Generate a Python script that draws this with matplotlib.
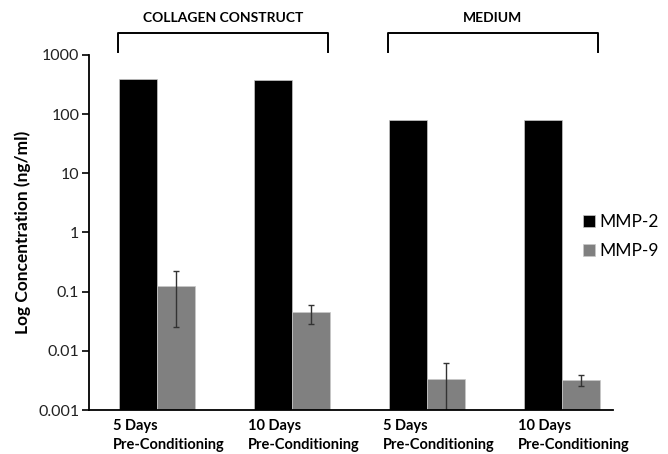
import numpy as np
import matplotlib
matplotlib.use('Agg')
import matplotlib.pyplot as plt
import matplotlib.transforms as mtransforms

plt.rcParams['font.family'] = ['Lato', 'DejaVu Sans']

# data
groups = ['5 Days\nPre-Conditioning', '10 Days\nPre-Conditioning',
          '5 Days\nPre-Conditioning', '10 Days\nPre-Conditioning']
mmp2 = [390, 385, 80, 80]
mmp9 = [0.125, 0.0445, 0.0034, 0.0032]
mmp9_err = [0.1, 0.016, 0.0028, 0.0007]
bracket_labels = ['COLLAGEN CONSTRUCT', 'MEDIUM']
bracket_groups = [(0, 1), (2, 3)]

x = np.arange(len(groups))
w = 0.285

fig = plt.figure(figsize=(6.68, 4.54), dpi=100)
ax = fig.add_axes([0.1332, 0.0969, 0.7845, 0.782])

ax.bar(x - w / 2, mmp2, w, color='black', edgecolor='#c8c8c8', linewidth=0.5, label='MMP-2')
ax.bar(x + w / 2, mmp9, w, color='#808080', edgecolor='#c8c8c8', linewidth=0.5, label='MMP-9')
ax.errorbar(x + w / 2, mmp9, yerr=mmp9_err, fmt='none', ecolor='#333333',
            elinewidth=1, capsize=2.5, capthick=1)

ax.set_yscale('log')
ax.set_ylim(0.001, 1000)
ax.set_xlim(-0.504, 3.378)
ax.set_yticks([0.001, 0.01, 0.1, 1, 10, 100, 1000])
ax.set_yticklabels(['0.001', '0.01', '0.1', '1', '10', '100', '1000'])
ax.minorticks_off()
ax.tick_params(axis='y', direction='out', length=5, width=1.2, labelsize=11.5, colors='black',
               labelcolor='#222222', pad=2)
ax.set_xticks([])
for s in ['top', 'right']:
    ax.spines[s].set_visible(False)
for s in ['left', 'bottom']:
    ax.spines[s].set_linewidth(1.3)

ax.set_ylabel('Log Concentration (ng/ml)', fontsize=12.5, fontweight='bold', labelpad=5)

# two-line group labels under the bars, left aligned at the black bar
trans = mtransforms.blended_transform_factory(ax.transData, ax.transAxes)
for i, lab in enumerate(groups):
    ax.text(i - w - 0.04, -0.024, lab, transform=trans,
            ha='left', va='top', fontsize=10.5, fontweight='bold', linespacing=1.5)

# brackets above the groups
for lab, (a, b) in zip(bracket_labels, bracket_groups):
    x0 = a - w - 0.005
    x1 = b + w - 0.02
    ax.plot([x0, x0, x1, x1], [1.008, 1.062, 1.062, 1.008], color='black', lw=1.4,
            transform=trans, clip_on=False)
    ax.text((x0 + x1) / 2, 1.105, lab, transform=trans, ha='center', va='center',
            fontsize=10, fontweight='bold')

fig.legend(loc='center left', bbox_to_anchor=(0.873, 0.479), frameon=False, fontsize=12.5,
           handlelength=0.7, handleheight=0.7, handletextpad=0.25, labelspacing=0.75,
           borderpad=0, borderaxespad=0)

fig.savefig('out.png', dpi=100)
